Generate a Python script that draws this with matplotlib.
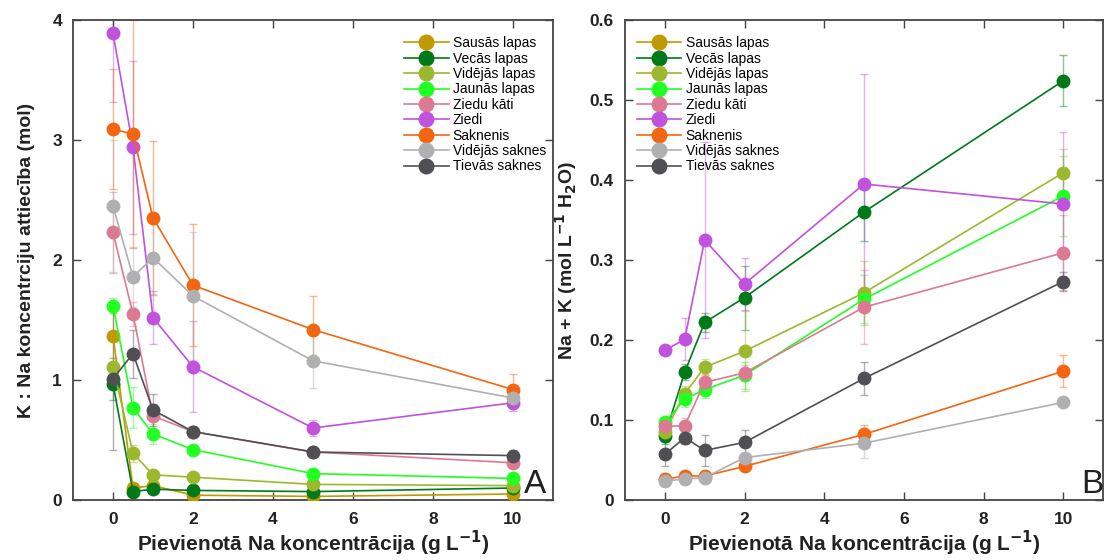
import numpy as np
import matplotlib
matplotlib.use("Agg")
import matplotlib.pyplot as plt

plt.rcParams['font.family'] = ['Liberation Sans', 'DejaVu Sans']

x = [0, 0.5, 1, 2, 5, 10]
series = ["Sausās lapas", "Vecās lapas", "Vidējās lapas", "Jaunās lapas", "Ziedu kāti",
          "Ziedi", "Saknenis", "Vidējās saknes", "Tievās saknes"]
colors = ["#C09A00", "#007A18", "#9BB82E", "#22FF22", "#DB7A92",
          "#C052DC", "#F26511", "#B0B0B3", "#505054"]

# Panel A: K : Na ratio
ratio_sausas = [1.37, 0.10, 0.12, 0.04, 0.03, 0.05]
ratio_vecas = [0.97, 0.07, 0.09, 0.08, 0.07, 0.10]
ratio_videjas_l = [1.11, 0.39, 0.21, 0.19, 0.13, 0.12]
ratio_jaunas = [1.62, 0.77, 0.55, 0.42, 0.22, 0.18]
ratio_ziedu_kati = [2.23, 1.55, 0.70, 0.57, 0.40, 0.31]
ratio_ziedi = [3.89, 2.94, 1.52, 1.11, 0.60, 0.81]
ratio_saknenis = [3.09, 3.05, 2.35, 1.79, 1.42, 0.92]
ratio_videjas_s = [2.45, 1.86, 2.02, 1.70, 1.16, 0.85]
ratio_tievas = [1.01, 1.22, 0.75, 0.57, 0.40, 0.37]

ratio_err_sausas = [0.19, 0.02, 0.02, 0.01, 0.01, 0.01]
ratio_err_vecas = [0.14, 0.01, 0.02, 0.01, 0.01, 0.01]
ratio_err_videjas_l = [0.07, 0.07, 0.03, 0.02, 0.02, 0.02]
ratio_err_jaunas = [0.06, 0.17, 0.08, 0.03, 0.03, 0.02]
ratio_err_ziedu_kati = [0.34, 0.10, 0.10, 0.05, 0.04, 0.03]
ratio_err_ziedi = [0.57, 0.72, 0.22, 0.38, 0.07, 0.07]
ratio_err_saknenis = [0.50, 0.95, 0.64, 0.51, 0.28, 0.13]
ratio_err_videjas_s = [0.55, 0.25, 0.30, 0.53, 0.23, 0.07]
ratio_err_tievas = [0.59, 0.20, 0.13, 0.03, 0.02, 0.05]

# Panel B: Na + K
nak_sausas = [np.nan] * 6
nak_vecas = [0.080, 0.160, 0.222, 0.253, 0.360, 0.524]
nak_videjas_l = [0.085, 0.133, 0.166, 0.186, 0.259, 0.409]
nak_jaunas = [0.097, 0.126, 0.138, 0.156, 0.251, 0.380]
nak_ziedu_kati = [0.092, 0.093, 0.147, 0.159, 0.241, 0.309]
nak_ziedi = [0.187, 0.201, 0.325, 0.270, 0.395, 0.370]
nak_saknenis = [0.026, 0.030, 0.030, 0.042, 0.082, 0.161]
nak_videjas_s = [0.024, 0.026, 0.028, 0.053, 0.071, 0.122]
nak_tievas = [0.057, 0.078, 0.062, 0.072, 0.152, 0.273]

nak_err_sausas = [np.nan] * 6
nak_err_vecas = [0.010, 0.010, 0.012, 0.040, 0.036, 0.032]
nak_err_videjas_l = [0.005, 0.010, 0.010, 0.050, 0.040, 0.030]
nak_err_jaunas = [0.005, 0.010, 0.010, 0.017, 0.030, 0.050]
nak_err_ziedu_kati = [0.005, 0.010, 0.010, 0.010, 0.046, 0.047]
nak_err_ziedi = [0.000, 0.026, 0.122, 0.033, 0.137, 0.090]
nak_err_saknenis = [0.003, 0.003, 0.003, 0.005, 0.012, 0.020]
nak_err_videjas_s = [0.003, 0.003, 0.003, 0.005, 0.018, 0.005]
nak_err_tievas = [0.015, 0.008, 0.019, 0.016, 0.021, 0.012]

ratio_vals = [ratio_sausas, ratio_vecas, ratio_videjas_l, ratio_jaunas, ratio_ziedu_kati,
              ratio_ziedi, ratio_saknenis, ratio_videjas_s, ratio_tievas]
ratio_errs = [ratio_err_sausas, ratio_err_vecas, ratio_err_videjas_l, ratio_err_jaunas,
              ratio_err_ziedu_kati, ratio_err_ziedi, ratio_err_saknenis, ratio_err_videjas_s,
              ratio_err_tievas]
nak_vals = [nak_sausas, nak_vecas, nak_videjas_l, nak_jaunas, nak_ziedu_kati,
            nak_ziedi, nak_saknenis, nak_videjas_s, nak_tievas]
nak_errs = [nak_err_sausas, nak_err_vecas, nak_err_videjas_l, nak_err_jaunas,
            nak_err_ziedu_kati, nak_err_ziedi, nak_err_saknenis, nak_err_videjas_s,
            nak_err_tievas]

fig = plt.figure(figsize=(11.04, 5.6), dpi=100)
axA = fig.add_axes([73 / 1104, 60 / 560, 480 / 1104, 480 / 560])
axB = fig.add_axes([625 / 1104, 60 / 560, 478 / 1104, 480 / 560])

spine_col = "#444444"


def draw(ax, vals, errs):
    handles = []
    for name, c, v, e in zip(series, colors, vals, errs):
        ax.errorbar(x, v, yerr=e, fmt='none', ecolor=c, alpha=0.45, elinewidth=1.0,
                    capsize=3, capthick=1.0, zorder=1)
        h, = ax.plot(x, v, '-o', color=c, lw=1.2, ms=10, mew=0, label=name, zorder=3)
        handles.append(h)
    return handles


def style(ax):
    ax.set_xlim(-1, 11)
    ax.set_xticks([0, 2, 4, 6, 8, 10])
    ax.tick_params(direction='in', length=6, width=1, top=True, right=True,
                   labelsize=12.5, colors=spine_col, labelcolor='#222222', pad=8)
    ax.tick_params(axis='x', pad=9)
    for lab in ax.get_xticklabels() + ax.get_yticklabels():
        lab.set_fontweight('bold')
    for s in ax.spines.values():
        s.set_color(spine_col)
        s.set_linewidth(1.3)
    ax.set_xlabel("Pievienotā Na koncentrācija (g L$^{\\mathbf{-1}}$)", fontsize=15,
                  fontweight='bold', color='#222222', labelpad=1)


leg_kw = dict(loc='upper left', frameon=False, fontsize=10, handlelength=3.2,
              handletextpad=0.3, labelspacing=0.1, borderpad=0, borderaxespad=0,
              markerscale=1.15)

hA = draw(axA, ratio_vals, ratio_errs)
axA.set_ylim(0, 4)
axA.set_yticks([0, 1, 2, 3, 4])
style(axA)
axA.set_ylabel("K : Na koncentrciju attiecība (mol)", fontsize=14, fontweight='bold',
               color='#222222', labelpad=12)
axA.legend(bbox_to_anchor=(0.69, 0.966), **leg_kw)
axA.text(0.985, 0.015, "A", transform=axA.transAxes, ha='right', va='baseline',
         fontsize=24, color='#222222')

hB = draw(axB, nak_vals, nak_errs)
axB.set_ylim(0, 0.6)
axB.set_yticks([0, 0.1, 0.2, 0.3, 0.4, 0.5, 0.6])
axB.set_yticklabels(["0", "0.1", "0.2", "0.3", "0.4", "0.5", "0.6"])
style(axB)
axB.set_ylabel("Na + K (mol L$^{\\mathbf{-1}}$ H$_{\\mathbf{2}}$O)", fontsize=14,
               fontweight='bold', color='#222222', labelpad=8)
axB.legend(bbox_to_anchor=(0.025, 0.966), **leg_kw)
axB.text(1.0, 0.015, "B", transform=axB.transAxes, ha='right', va='baseline',
         fontsize=24, color='#222222')

fig.savefig("out.png", dpi=100)
